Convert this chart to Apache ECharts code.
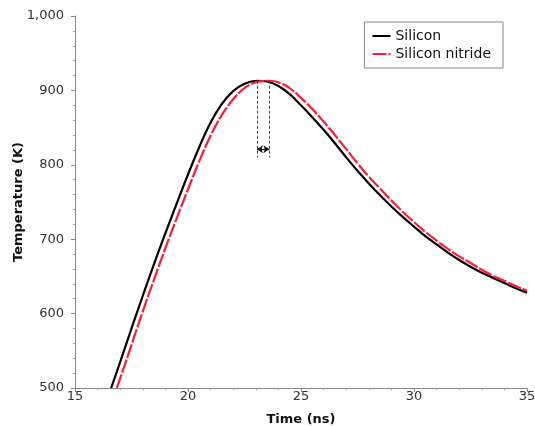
<!DOCTYPE html>
<html>
<head>
<meta charset="utf-8">
<title>Temperature vs time</title>
<script src="https://cdn.jsdelivr.net/npm/echarts@6/dist/echarts.min.js"></script>
<style>
  html, body { margin: 0; padding: 0; background: #fff; }
  #chart { width: 535px; height: 426px; }
</style>
</head>
<body>
<div id="chart"></div>
<script>
// data
var siliconTime = [16.6, 17.0, 17.5, 18.0, 18.5, 19.0, 19.5, 20.0, 20.5, 21.0, 21.5, 22.0, 22.5, 23.05, 23.5, 24.0, 24.5, 25.0, 25.5, 26.0, 26.5, 27.0, 27.5, 28.0, 28.5, 29.0, 29.5, 30.0, 30.5, 31.0, 31.5, 32.0, 32.5, 33.0, 33.5, 34.0, 34.5, 35.0];
var siliconTemp = [500, 535, 580, 624, 667, 708, 748, 787, 824, 857, 882, 899, 909, 913, 912, 906, 895, 880, 864, 847, 829, 810, 792, 775, 759, 744, 730, 717, 704, 693, 682, 672, 663, 655, 648, 641, 634, 628];

var nitrideTime = [16.85, 17.0, 17.5, 18.0, 18.5, 19.0, 19.5, 20.0, 20.5, 21.0, 21.5, 22.0, 22.5, 23.0, 23.6, 24.0, 24.5, 25.0, 25.5, 26.0, 26.5, 27.0, 27.5, 28.0, 28.5, 29.0, 29.5, 30.0, 30.5, 31.0, 31.5, 32.0, 32.5, 33.0, 33.5, 34.0, 34.5, 35.0];
var nitrideTemp = [500, 513, 558, 603, 646, 688, 728, 767, 805, 839, 867, 888, 903, 911, 913, 911, 903, 890, 875, 858, 840, 821, 802, 784, 768, 752, 737, 723, 710, 698, 687, 677, 668, 659, 651, 644, 637, 631];

var peakTimes = [23.05, 23.6];
var peakTemp = 913;
var guideBottom = 810;
var arrowTemp = 821;

function pairs(xs, ys){
	var out = [];
	for (var i = 0; i < xs.length; i++) { out.push([xs[i], ys[i]]); }
	return out;
}

var chart = echarts.init(document.getElementById('chart'));

var axisFont = { fontFamily: 'DejaVu Sans', fontSize: 13, color: '#333' };
var nameFont = { fontFamily: 'DejaVu Sans', fontSize: 13, fontWeight: 'bold', color: '#111' };

var option = {
	animation: false,
	backgroundColor: '#fff',
	grid: { left: 75, right: 8, top: 16, bottom: 38, outerBoundsMode: 'none' },
	legend: {
		right: 32, top: 22,
		orient: 'vertical',
		itemWidth: 18, itemHeight: 2,
		itemGap: 4,
		padding: [7, 12, 7, 7],
		borderColor: '#888', borderWidth: 1,
		textStyle: { fontFamily: 'DejaVu Sans', fontSize: 14, color: '#111' },
		data: ['Silicon', 'Silicon nitride']
	},
	xAxis: {
		type: 'value',
		min: 15, max: 35, interval: 5,
		name: 'Time (ns)',
		nameLocation: 'middle',
		nameGap: 25,
		nameTextStyle: nameFont,
		axisLine: { lineStyle: { color: '#888' } },
		axisTick: { inside: false, length: 4, lineStyle: { color: '#888' } },
		minorTick: { show: true, splitNumber: 5, length: 2, lineStyle: { color: '#999' } },
		splitLine: { show: false },
		axisLabel: Object.assign({ margin: 2, showMaxLabel: true }, axisFont)
	},
	yAxis: {
		type: 'value',
		min: 500, max: 1000, interval: 100,
		name: 'Temperature (K)',
		nameLocation: 'middle',
		nameGap: 50,
		nameMoveOverlap: false,
		nameTextStyle: nameFont,
		axisLine: { show: true, lineStyle: { color: '#888' } },
		axisTick: { show: true, inside: false, length: 4, lineStyle: { color: '#888' } },
		minorTick: { show: true, splitNumber: 5, length: 2, lineStyle: { color: '#999' } },
		splitLine: { show: false },
		axisLabel: Object.assign({
			margin: 11,
			formatter: function(v){ return v.toLocaleString('en-US'); }
		}, axisFont)
	},
	series: [
		{
			name: 'Silicon',
			type: 'line',
			smooth: 0.4,
			symbol: 'none',
			color: '#000',
			lineStyle: { color: '#000', width: 2.2 },
			data: pairs(siliconTime, siliconTemp),
			z: 3
		},
		{
			name: 'Silicon nitride',
			type: 'line',
			smooth: 0.4,
			symbol: 'none',
			color: '#ff1a3a',
			lineStyle: { color: '#ff1a3a', width: 2.2, type: [14, 2] },
			data: pairs(nitrideTime, nitrideTemp),
			z: 4,
			markLine: {
				silent: true,
				symbol: 'none',
				label: { show: false },
				lineStyle: { color: '#444', type: [3, 2], width: 1 },
				data: [
					[{ coord: [peakTimes[0], peakTemp] }, { coord: [peakTimes[0], guideBottom] }],
					[{ coord: [peakTimes[1], peakTemp] }, { coord: [peakTimes[1], guideBottom] }],
					[{ coord: [peakTimes[0], arrowTemp], symbol: 'arrow', symbolSize: [6, 6] },
					 { coord: [peakTimes[1], arrowTemp], symbol: 'arrow', symbolSize: [6, 6], lineStyle: { type: 'solid', color: '#111', width: 1.2 } }]
				]
			}
		}
	]
};

chart.setOption(option);
</script>
</body>
</html>
